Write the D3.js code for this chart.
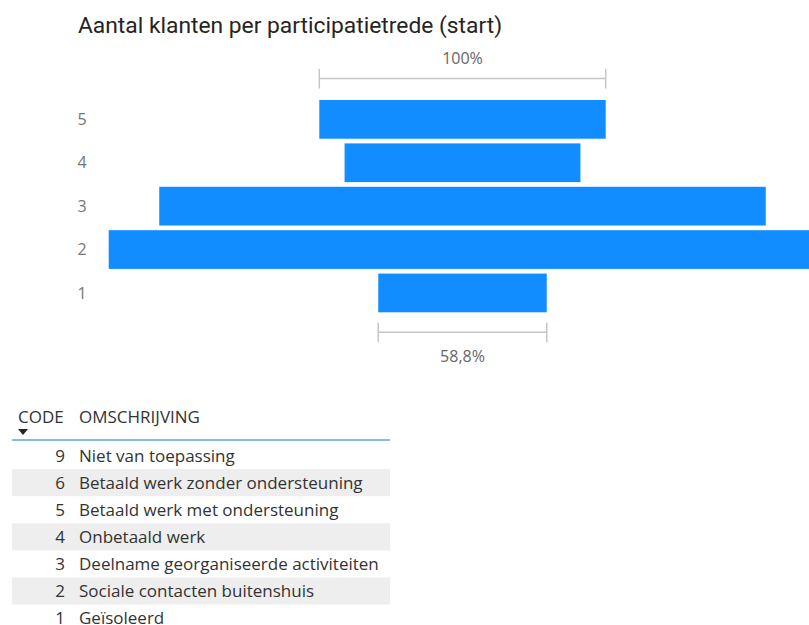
<!DOCTYPE html>
<html>
<head>
<meta charset="utf-8">
<script src="https://cdn.jsdelivr.net/npm/d3@7"></script>
<style>
  body { margin: 0; background: #fff; overflow: hidden; }
  text { font-family: "Open Sans", "Noto Sans", sans-serif; }
</style>
</head>
<body>
<script>
// funnel data (trede -> aantal klanten)
const steps = ["5", "4", "3", "2", "1"];
const counts = [17, 14, 36, 42, 10];

// table rows
const codes = ["9", "6", "5", "4", "3", "2", "1"];
const descriptions = ["Niet van toepassing", "Betaald werk zonder ondersteuning", "Betaald werk met ondersteuning",
    "Onbetaald werk", "Deelname georganiseerde activiteiten", "Sociale contacten buitenshuis", "Geïsoleerd"];
const headers = ["CODE", "OMSCHRIJVING"];

const width = 809;
const height = 625;
const cx = 462.5;

var svg = d3.select('body')
    .append('svg')
    .attr('width', width)
    .attr('height', height);

svg.append('text')
    .attr('x', 78)
    .attr('y', 33)
    .attr('font-size', '22.8px')
    .attr('fill', '#252423')
    .style('font-family', 'Roboto, "Open Sans", sans-serif')
    .text('Aantal klanten per participatietrede (start)');

var x_scale = d3.scaleLinear()
    .domain([0, d3.max(counts)])
    .range([0, 707.6]);

var y_scale = d3.scaleBand()
    .domain(steps)
    .range([100, 312.3])
    .paddingInner(0.108)
    .paddingOuter(0);

let data_array = steps.map((s, i) => ({step: s, count: counts[i]}));

svg.selectAll('rect.bar')
    .data(data_array)
    .enter()
    .append('rect')
    .attr('class', 'bar')
    .attr('x', d => cx - x_scale(d.count) / 2)
    .attr('y', d => y_scale(d.step))
    .attr('width', d => x_scale(d.count))
    .attr('height', y_scale.bandwidth())
    .attr('fill', '#118DFF');

svg.selectAll('text.ylab')
    .data(data_array)
    .enter()
    .append('text')
    .attr('class', 'ylab')
    .attr('x', 82)
    .attr('y', d => y_scale(d.step) + y_scale.bandwidth() / 2)
    .attr('dy', '0.35em')
    .attr('text-anchor', 'middle')
    .attr('font-size', '16px')
    .attr('fill', '#777')
    .text(d => d.step);

// brackets with percentages (first and last step, relative to first)
const first = data_array[0];
const last = data_array[data_array.length - 1];
const fmt = v => (v * 100).toFixed(1).replace('.', ',').replace(',0', '') + '%';

function bracket(d, lineY, textY) {
    var w = x_scale(d.count);
    var g = svg.append('g').attr('stroke', '#c8c6c4').attr('stroke-width', 1.5);
    g.append('line').attr('x1', cx - w / 2).attr('x2', cx + w / 2).attr('y1', lineY).attr('y2', lineY);
    g.append('line').attr('x1', cx - w / 2).attr('x2', cx - w / 2).attr('y1', lineY - 9.5).attr('y2', lineY + 10);
    g.append('line').attr('x1', cx + w / 2).attr('x2', cx + w / 2).attr('y1', lineY - 9.5).attr('y2', lineY + 10);
    svg.append('text')
        .attr('x', cx)
        .attr('y', textY)
        .attr('dy', '0.35em')
        .attr('text-anchor', 'middle')
        .attr('font-size', '16px')
        .attr('fill', '#666')
        .text(fmt(d.count / first.count));
}
bracket(first, 78.5, 58);
bracket(last, 332.3, 356.5);

// table
const rowTop = 442;
const rowH = 27.1;

svg.append('text')
    .attr('x', 18).attr('y', 417).attr('dy', '0.35em')
    .attr('font-size', '17px').attr('fill', '#333')
    .text(headers[0]);
svg.append('text')
    .attr('x', 79).attr('y', 417).attr('dy', '0.35em')
    .attr('font-size', '17px').attr('fill', '#333')
    .text(headers[1]);
svg.append('path')
    .attr('d', 'M18,429 L28,429 L23,435 Z')
    .attr('fill', '#222');
svg.append('line')
    .attr('x1', 12).attr('x2', 390).attr('y1', 440).attr('y2', 440)
    .attr('stroke', '#5aa5e6').attr('stroke-width', 1.5);

let rows = codes.map((c, i) => ({code: c, desc: descriptions[i], i: i}));

var row = svg.selectAll('g.row')
    .data(rows)
    .enter()
    .append('g')
    .attr('class', 'row')
    .attr('transform', d => 'translate(0,' + (rowTop + d.i * rowH) + ')');

row.filter(d => d.i % 2 === 1)
    .append('rect')
    .attr('x', 12).attr('y', 0)
    .attr('width', 378).attr('height', rowH)
    .attr('fill', '#eeeeee');

row.append('text')
    .attr('x', 65).attr('y', rowH / 2).attr('dy', '0.35em')
    .attr('text-anchor', 'end')
    .attr('font-size', '17px').attr('fill', '#333')
    .text(d => d.code);

row.append('text')
    .attr('x', 79).attr('y', rowH / 2).attr('dy', '0.35em')
    .attr('font-size', '17px').attr('fill', '#333')
    .text(d => d.desc);
</script>
</body>
</html>
